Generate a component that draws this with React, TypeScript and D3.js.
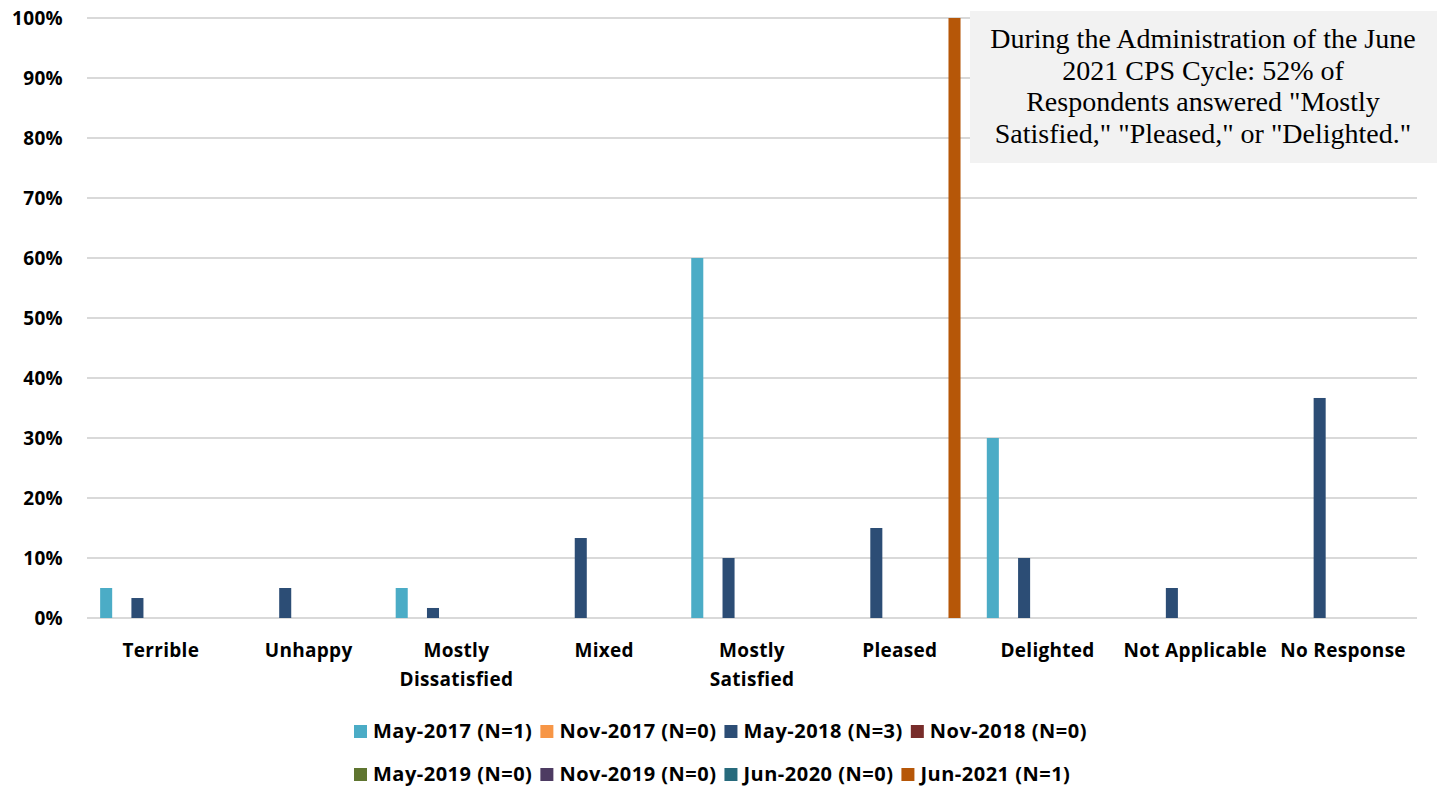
import React, { useEffect, useRef } from "react";
import * as d3 from "d3";

const categories = ["Terrible", "Unhappy", "Mostly Dissatisfied", "Mixed", "Mostly Satisfied", "Pleased", "Delighted", "Not Applicable", "No Response"];
const categoryLines = [["Terrible"], ["Unhappy"], ["Mostly", "Dissatisfied"], ["Mixed"], ["Mostly", "Satisfied"], ["Pleased"], ["Delighted"], ["Not Applicable"], ["No Response"]];
const seriesNames = ["May-2017 (N=1)", "Nov-2017 (N=0)", "May-2018 (N=3)", "Nov-2018 (N=0)", "May-2019 (N=0)", "Nov-2019 (N=0)", "Jun-2020 (N=0)", "Jun-2021 (N=1)"];
const seriesColors = ["#4bacc6", "#f79646", "#2c4d75", "#772c2a", "#5f7530", "#4d3b62", "#276a7c", "#b65708"];
const may2017 = [0.05, 0, 0.05, 0, 0.6, 0, 0.3, 0, 0];
const nov2017 = [0, 0, 0, 0, 0, 0, 0, 0, 0];
const may2018 = [0.0333, 0.05, 0.0167, 0.1333, 0.1, 0.15, 0.1, 0.05, 0.3667];
const nov2018 = [0, 0, 0, 0, 0, 0, 0, 0, 0];
const may2019 = [0, 0, 0, 0, 0, 0, 0, 0, 0];
const nov2019 = [0, 0, 0, 0, 0, 0, 0, 0, 0];
const jun2020 = [0, 0, 0, 0, 0, 0, 0, 0, 0];
const jun2021 = [0, 0, 0, 0, 0, 1, 0, 0, 0];
const seriesValues = [may2017, nov2017, may2018, nov2018, may2019, nov2019, jun2020, jun2021];
const yTicks = [0, 0.1, 0.2, 0.3, 0.4, 0.5, 0.6, 0.7, 0.8, 0.9, 1];
const noteLines = [
  "During the Administration of the June",
  "2021 CPS Cycle: 52% of",
  "Respondents answered \"Mostly",
  "Satisfied,\" \"Pleased,\" or \"Delighted.\"",
];

const W = 1441, H = 789;
const left = 87, right = 1417, top = 18, bottom = 618;
const boldFont = "'Open Sans', Lato, sans-serif";

export default function App() {
  const ref = useRef<SVGSVGElement>(null);
  useEffect(() => {
    const svg = d3.select(ref.current);
    svg.selectAll("*").remove();
    const x0 = d3.scaleBand<string>().domain(categories).range([left, right]).padding(0);
    const x1 = d3.scaleBand<number>().domain(d3.range(seriesNames.length)).range([0, x0.bandwidth()]).paddingInner(0.23).paddingOuter(0.84);
    const y = d3.scaleLinear().domain([0, 1]).range([bottom, top]);

    svg.append("g").selectAll("line").data(yTicks).join("line")
      .attr("x1", left).attr("x2", right)
      .attr("y1", d => y(d)).attr("y2", d => y(d))
      .attr("stroke", "#d9d9d9").attr("stroke-width", 2);

    svg.append("g").selectAll("text").data(yTicks).join("text")
      .attr("x", 63).attr("y", d => y(d)).attr("dy", "0.35em")
      .attr("text-anchor", "end").attr("font-family", boldFont).attr("font-weight", 700)
      .attr("font-size", 19).attr("letter-spacing", 0.3).attr("fill", "#000")
      .text(d => d3.format(".0%")(d));

    const groups = svg.append("g").selectAll("g").data(seriesValues).join("g")
      .attr("fill", (_, i) => seriesColors[i]);
    groups.each(function (vals, si) {
      d3.select(this).selectAll("rect").data(vals.map((v, ci) => ({ v, ci })).filter(d => d.v > 0)).join("rect")
        .attr("x", d => (x0(categories[d.ci]) as number) + (x1(si) as number))
        .attr("width", x1.bandwidth())
        .attr("y", d => y(d.v))
        .attr("height", d => bottom - y(d.v));
    });

    const cl = svg.append("g");
    categories.forEach((c, i) => {
      const cx = (x0(c) as number) + x0.bandwidth() / 2;
      const t = cl.append("text").attr("text-anchor", "middle").attr("font-family", boldFont)
        .attr("font-weight", 700).attr("font-size", 19).attr("letter-spacing", 0.3).attr("fill", "#000");
      categoryLines[i].forEach((line, li) => {
        t.append("tspan").attr("x", cx).attr("y", 657 + li * 29).text(line);
      });
    });

    svg.append("rect").attr("x", 970).attr("y", 11).attr("width", 467).attr("height", 152).attr("fill", "#f2f2f2");
    const nt = svg.append("text").attr("text-anchor", "middle").attr("font-family", "'Liberation Serif', 'Times New Roman', serif")
      .attr("font-size", 28).attr("fill", "#000");
    noteLines.forEach((l, i) => {
      nt.append("tspan").attr("x", 1203).attr("y", 48 + i * 31.7).text(l);
    });

    const rows = [[0, 1, 2, 3], [4, 5, 6, 7]];
    const lg = svg.append("g");
    rows.forEach((row, ri) => {
      let cx = 354;
      const yy = 731 + ri * 43;
      row.forEach(si => {
        lg.append("rect").attr("x", cx).attr("y", yy - 6).attr("width", 13).attr("height", 13).attr("fill", seriesColors[si]);
        const t = lg.append("text").attr("x", cx + 19).attr("y", yy).attr("dy", "0.36em")
          .attr("font-family", boldFont).attr("font-weight", 700).attr("font-size", 20).attr("letter-spacing", 0.5).attr("fill", "#000")
          .text(seriesNames[si]);
        const w = (t.node() as SVGTextElement).getComputedTextLength();
        cx += 19 + w + 8;
      });
    });
  }, []);
  return <svg ref={ref} width={W} height={H} style={{ position: "absolute", left: 0, top: 0, background: "#fff" }} />;
}
